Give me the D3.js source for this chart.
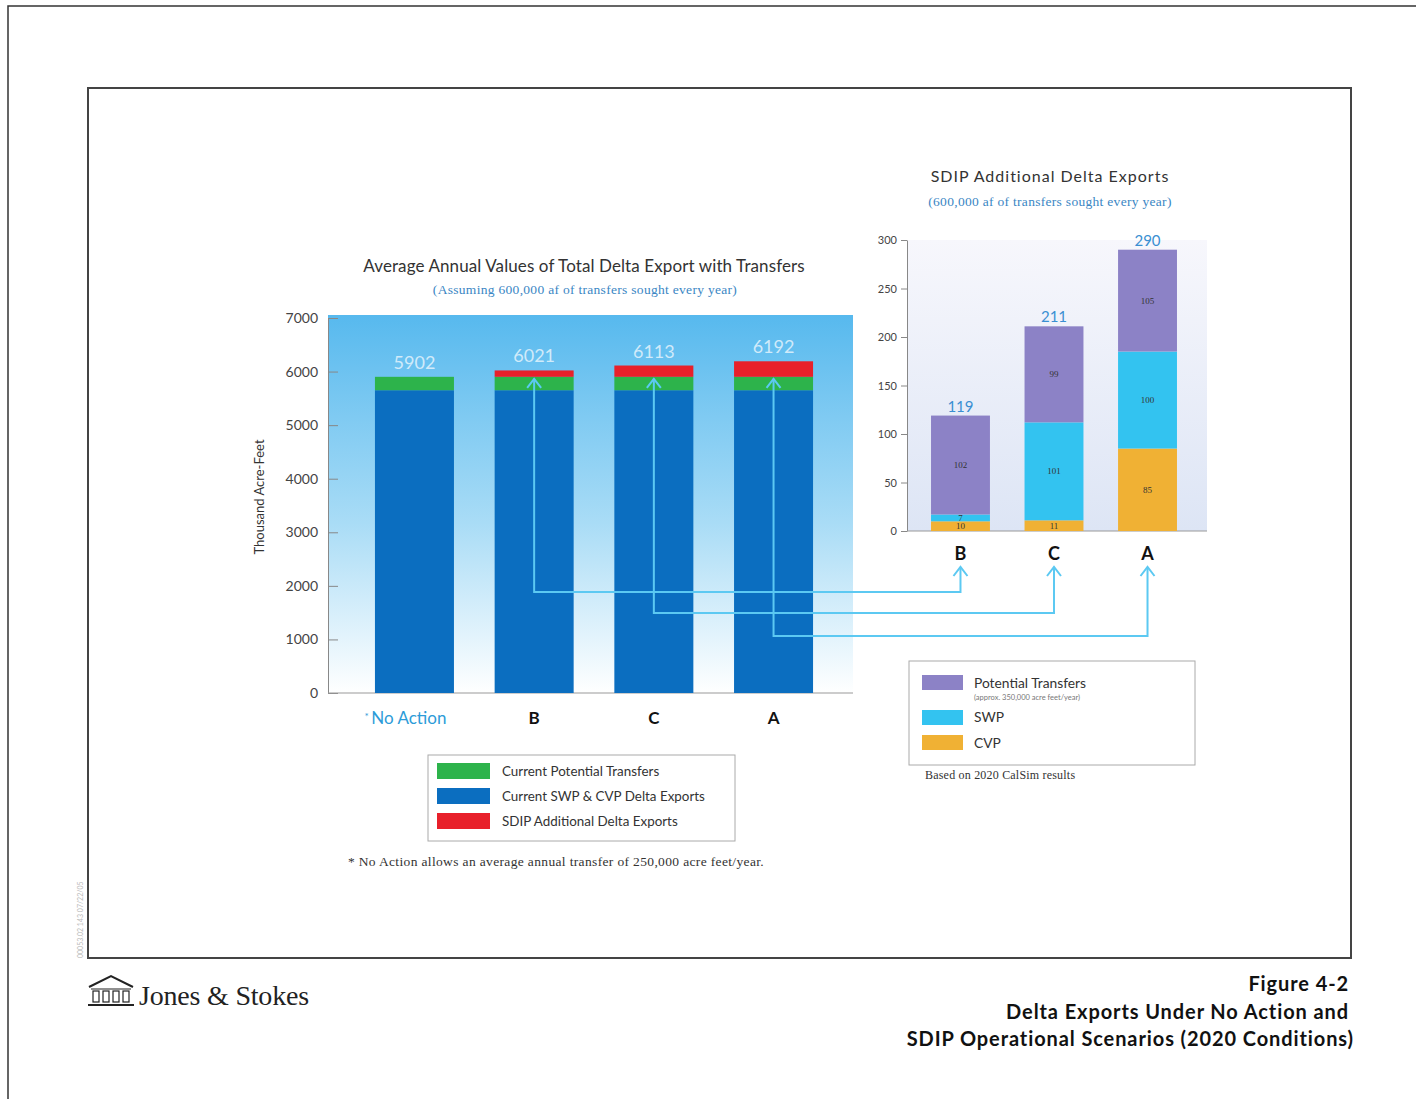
<!DOCTYPE html>
<html>
<head>
<meta charset="utf-8">
<script src="https://cdn.jsdelivr.net/npm/d3@7"></script>
<style>
  body { margin: 0; background: #fff; }
  text { font-family: Lato, "Open Sans", sans-serif; }
  .serif { font-family: "Liberation Serif", "DejaVu Serif", serif; }
</style>
</head>
<body>
<div id="chart"></div>
<script>
// left chart: average annual total delta export (thousand acre-feet)
const scenarios = ["No Action", "B", "C", "A"];
const swpCvpExports = [5652, 5652, 5652, 5652];
const currentTransfers = [250, 250, 250, 250];
const sdipAdditional = [0, 119, 211, 290];
const scenarioTotals = [5902, 6021, 6113, 6192];
const leftTicks = [0, 1000, 2000, 3000, 4000, 5000, 6000, 7000];

// right chart: SDIP additional delta exports
const sdipScenarios = ["B", "C", "A"];
const cvpValues = [10, 11, 85];
const swpValues = [7, 101, 100];
const transferValues = [102, 99, 105];
const sdipTotals = [119, 211, 290];
const rightTicks = [0, 50, 100, 150, 200, 250, 300];

const W = 1416, H = 1099;
const svg = d3.select("#chart").append("svg").attr("width", W).attr("height", H);

const defs = svg.append("defs");
const g1 = defs.append("linearGradient").attr("id", "skyGrad").attr("x1", 0).attr("y1", 0).attr("x2", 0).attr("y2", 1);
g1.append("stop").attr("offset", "0%").attr("stop-color", "#57b9ee");
g1.append("stop").attr("offset", "55%").attr("stop-color", "#a9dcf6");
g1.append("stop").attr("offset", "100%").attr("stop-color", "#ffffff");
const g2 = defs.append("linearGradient").attr("id", "lavGrad").attr("x1", 0).attr("y1", 0).attr("x2", 0).attr("y2", 1);
g2.append("stop").attr("offset", "0%").attr("stop-color", "#f7f7fc");
g2.append("stop").attr("offset", "100%").attr("stop-color", "#dde5f5");

// page frames
svg.append("path").attr("d", `M8,${H} V6 H${W}`).attr("fill", "none").attr("stroke", "#333").attr("stroke-width", 1.5);
svg.append("rect").attr("x", 88).attr("y", 88).attr("width", 1263).attr("height", 870)
  .attr("fill", "none").attr("stroke", "#444").attr("stroke-width", 2);

// ---------- left chart ----------
const L = { left: 328, right: 853, top: 318, bottom: 693 };
const xL = d3.scaleBand().domain(scenarios).range([L.left + 3.5, L.right + 3.5]).paddingInner(0.34).paddingOuter(0.363);
const yL = d3.scaleLinear().domain([0, 7000]).range([L.bottom, L.top]);

svg.append("rect").attr("x", L.left).attr("y", L.top - 3).attr("width", L.right - L.left)
  .attr("height", L.bottom - L.top + 3).attr("fill", "url(#skyGrad)");

const leftAxis = svg.append("g").attr("transform", `translate(${L.left},0)`)
  .call(d3.axisLeft(yL).tickValues(leftTicks).tickSize(-10).tickSizeOuter(0).tickPadding(10).tickFormat(d3.format("d")));
leftAxis.select(".domain").attr("stroke", "#888");
leftAxis.selectAll(".tick line").attr("stroke", "#888");
leftAxis.selectAll("text").attr("font-size", 14).attr("fill", "#444").attr("font-family", "Lato, sans-serif");
svg.append("line").attr("x1", L.left).attr("x2", L.right).attr("y1", L.bottom).attr("y2", L.bottom)
  .attr("stroke", "#999").attr("stroke-width", 1.2);

svg.append("text").attr("transform", `translate(264,497) rotate(-90)`).attr("text-anchor", "middle")
  .attr("font-size", 13).attr("fill", "#333").text("Thousand Acre-Feet");

const leftRows = scenarios.map((s, i) => ({ s, exp: swpCvpExports[i], tr: currentTransfers[i], add: sdipAdditional[i], total: scenarioTotals[i] }));
const bw = xL.bandwidth();
const lb = svg.append("g");
leftRows.forEach(d => {
  const x = xL(d.s);
  lb.append("rect").attr("x", x).attr("width", bw).attr("y", yL(d.exp)).attr("height", yL(0) - yL(d.exp)).attr("fill", "#0b6ec0");
  lb.append("rect").attr("x", x).attr("width", bw).attr("y", yL(d.exp + d.tr)).attr("height", yL(d.exp) - yL(d.exp + d.tr)).attr("fill", "#2db34b");
  if (d.add > 0) {
    lb.append("rect").attr("x", x).attr("width", bw).attr("y", yL(d.exp + d.tr + d.add))
      .attr("height", yL(d.exp + d.tr) - yL(d.exp + d.tr + d.add)).attr("fill", "#e8202a");
  }
  lb.append("text").attr("x", x + bw / 2).attr("y", yL(d.exp + d.tr + d.add) - 8).attr("text-anchor", "middle")
    .attr("font-size", 18).attr("fill", "#e4f3fc").attr("fill-opacity", 0.85).text(d.total);
});

// x labels
scenarios.forEach(s => {
  const t = svg.append("text").attr("x", xL(s) + bw / 2).attr("y", 724).attr("text-anchor", "middle").attr("font-size", 17);
  if (s === "No Action") {
    t.attr("fill", "#2c9bd8").attr("x", xL(s) + bw / 2 - 9);
    t.append("tspan").attr("font-size", 10).attr("dy", -4).text("* ");
    t.append("tspan").attr("dy", 4).text(s);
  } else {
    t.attr("fill", "#111").attr("font-weight", "bold").text(s);
  }
});

svg.append("text").attr("x", 584).attr("y", 272).attr("text-anchor", "middle").attr("font-size", 17).attr("fill", "#333")
  .attr("letter-spacing", 0.1).text("Average Annual Values of Total Delta Export with Transfers");
svg.append("text").attr("class", "serif").attr("x", 585).attr("y", 294).attr("text-anchor", "middle").attr("font-size", 13.5)
  .attr("letter-spacing", 0.3).attr("fill", "#3a86c4").text("(Assuming 600,000 af of transfers sought every year)");

// left legend
svg.append("rect").attr("x", 428).attr("y", 755).attr("width", 307).attr("height", 86).attr("fill", "#fff").attr("stroke", "#aaa");
const leftLegend = [["Current Potential Transfers", "#2db34b"], ["Current SWP & CVP Delta Exports", "#0b6ec0"], ["SDIP Additional Delta Exports", "#e8202a"]];
leftLegend.forEach((d, i) => {
  svg.append("rect").attr("x", 437).attr("y", 763 + i * 25).attr("width", 53).attr("height", 16).attr("fill", d[1]);
  svg.append("text").attr("x", 502).attr("y", 776 + i * 25).attr("font-size", 13.4).attr("fill", "#333").text(d[0]);
});
svg.append("text").attr("class", "serif").attr("x", 556).attr("y", 866).attr("text-anchor", "middle").attr("font-size", 13.5)
  .attr("letter-spacing", 0.35).attr("fill", "#333").text("* No Action allows an average annual transfer of 250,000 acre feet/year.");

// ---------- right chart ----------
const R = { left: 907, right: 1207, top: 240, bottom: 531 };
const xR = d3.scaleBand().domain(sdipScenarios).range([R.left - 3, R.right - 3]).paddingInner(0.37).paddingOuter(0.289);
const yR = d3.scaleLinear().domain([0, 300]).range([R.bottom, R.top]);

svg.append("rect").attr("x", R.left).attr("y", R.top).attr("width", R.right - R.left).attr("height", R.bottom - R.top)
  .attr("fill", "url(#lavGrad)");
const rightAxis = svg.append("g").attr("transform", `translate(${R.left},0)`)
  .call(d3.axisLeft(yR).tickValues(rightTicks).tickSize(6).tickSizeOuter(0).tickPadding(4));
rightAxis.select(".domain").attr("stroke", "#888");
rightAxis.selectAll(".tick line").attr("stroke", "#888");
rightAxis.selectAll("text").attr("font-size", 11).attr("fill", "#444").attr("font-family", "Lato, sans-serif");
svg.append("line").attr("x1", R.left).attr("x2", R.right).attr("y1", R.bottom).attr("y2", R.bottom).attr("stroke", "#999");

const rbw = xR.bandwidth();
const stackRows = sdipScenarios.map((s, i) => ({ s, cvp: cvpValues[i], swp: swpValues[i], tr: transferValues[i] }));
const stack = d3.stack().keys(["cvp", "swp", "tr"])(stackRows);
const segColors = { cvp: "#f0b134", swp: "#33c3f0", tr: "#8c82c6" };
stack.forEach(layer => {
  layer.forEach((p, i) => {
    const s = sdipScenarios[i];
    const y0 = yR(p[0]), y1 = yR(p[1]);
    svg.append("rect").attr("x", xR(s)).attr("width", rbw).attr("y", y1).attr("height", y0 - y1).attr("fill", segColors[layer.key]);
    svg.append("text").attr("x", xR(s) + rbw / 2).attr("y", (y0 + y1) / 2 + 3).attr("text-anchor", "middle")
      .attr("font-size", 9).attr("fill", "#333").attr("class", "serif").text(p.data[layer.key]);
  });
});
sdipScenarios.forEach((s, i) => {
  svg.append("text").attr("x", xR(s) + rbw / 2).attr("y", yR(sdipTotals[i]) - 4).attr("text-anchor", "middle")
    .attr("font-size", 15).attr("fill", "#3a8fd2").text(sdipTotals[i]);
  svg.append("text").attr("x", xR(s) + rbw / 2).attr("y", 560).attr("text-anchor", "middle")
    .attr("font-size", 18).attr("font-weight", "bold").attr("fill", "#111").text(s);
});

svg.append("text").attr("x", 1050).attr("y", 182).attr("text-anchor", "middle").attr("font-size", 16).attr("fill", "#333")
  .attr("letter-spacing", 1.0).text("SDIP Additional Delta Exports");
svg.append("text").attr("class", "serif").attr("x", 1050).attr("y", 206).attr("text-anchor", "middle").attr("font-size", 13.5)
  .attr("letter-spacing", 0.3).attr("fill", "#3a86c4").text("(600,000 af of transfers sought every year)");

// connector arrows from left bars to right labels
const arrowLevels = { B: 592, C: 613, A: 636 };
sdipScenarios.forEach(s => {
  const xa = xL(s) + bw / 2;
  const ya = yL(5902) + 2;
  const xb = xR(s) + rbw / 2;
  const yb = 567;
  const yh = arrowLevels[s];
  svg.append("path").attr("d", `M${xa},${ya} V${yh} H${xb} V${yb}`)
    .attr("fill", "none").attr("stroke", "#5cc9f2").attr("stroke-width", 2);
  [[xa, ya], [xb, yb]].forEach(([ax, ay]) => {
    svg.append("path").attr("d", `M${ax - 7},${ay + 9} L${ax},${ay} L${ax + 7},${ay + 9}`)
      .attr("fill", "none").attr("stroke", "#5cc9f2").attr("stroke-width", 2);
  });
});

// right legend
svg.append("rect").attr("x", 909).attr("y", 661).attr("width", 286).attr("height", 104).attr("fill", "#fff").attr("stroke", "#aaa");
const rightLegend = [["Potential Transfers", "#8c82c6", 675, 688], ["SWP", "#33c3f0", 710, 722], ["CVP", "#f0b134", 735, 748]];
rightLegend.forEach(d => {
  svg.append("rect").attr("x", 922).attr("y", d[2]).attr("width", 41).attr("height", 15).attr("fill", d[1]);
  svg.append("text").attr("x", 974).attr("y", d[3]).attr("font-size", 13.8).attr("fill", "#333").text(d[0]);
});
svg.append("text").attr("x", 974).attr("y", 700).attr("font-size", 7.5).attr("fill", "#777").text("(approx. 350,000 acre feet/year)");
svg.append("text").attr("class", "serif").attr("x", 925).attr("y", 779).attr("font-size", 12).attr("letter-spacing", 0.2)
  .attr("fill", "#333").text("Based on 2020 CalSim results");

// side file code
svg.append("text").attr("transform", "translate(83,958) rotate(-90)").attr("font-size", 7).attr("fill", "#bbb")
  .text("00053.02 143 07/22/05");

// logo
const logo = svg.append("g").attr("stroke", "#222").attr("fill", "none");
logo.append("path").attr("d", "M89,987 L111,976 L133,987").attr("stroke-width", 2);
logo.append("path").attr("d", "M88,1005 H134").attr("stroke-width", 2);
logo.append("path").attr("d", "M91,989 H131").attr("stroke-width", 1.2);
[96, 106, 116, 126].forEach(x => logo.append("rect").attr("x", x - 3).attr("y", 991).attr("width", 6).attr("height", 11).attr("stroke-width", 1.2));
svg.append("text").attr("class", "serif").attr("x", 139).attr("y", 1005).attr("font-size", 28).attr("fill", "#222")
  .attr("letter-spacing", -0.2).text("Jones & Stokes");

// figure caption
const cap = [["Figure 4-2", 1349, 991], ["Delta Exports Under No Action and", 1349, 1019], ["SDIP Operational Scenarios (2020 Conditions)", 1354, 1046]];
cap.forEach(d => {
  svg.append("text").attr("x", d[1]).attr("y", d[2]).attr("text-anchor", "end").attr("font-size", 20)
    .attr("letter-spacing", 0.9).attr("font-weight", "bold").attr("fill", "#111").text(d[0]);
});
</script>
</body>
</html>
